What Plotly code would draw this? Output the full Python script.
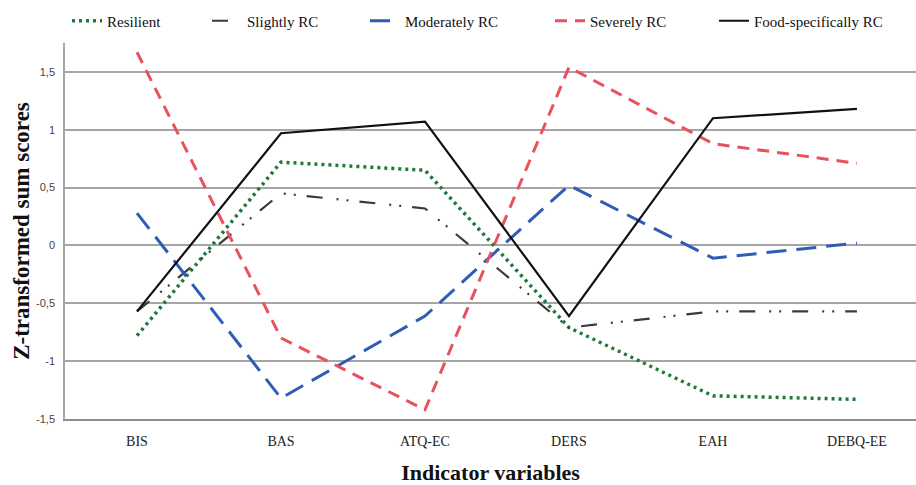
import plotly.graph_objects as go

categories = ["BIS", "BAS", "ATQ-EC", "DERS", "EAH", "DEBQ-EE"]
resilient = [-0.78, 0.72, 0.65, -0.71, -1.30, -1.33]
slightly_rc = [-0.57, 0.45, 0.32, -0.71, -0.57, -0.57]
moderately_rc = [0.28, -1.32, -0.61, 0.52, -0.11, 0.02]
severely_rc = [1.67, -0.80, -1.42, 1.54, 0.88, 0.71]
food_rc = [-0.57, 0.97, 1.07, -0.61, 1.10, 1.18]

y_ticks = [-1.5, -1, -0.5, 0, 0.5, 1, 1.5]
y_ticktext = ["-1,5", "-1", "-0,5", "0", "0,5", "1", "1,5"]

series = [
    ("Resilient", resilient, "#1d7a3a", 3.5, "3px,4px", 67),
    ("Slightly RC", slightly_rc, "#3a3a3a", 2.2, "16px,14px,2px,8px,2px,11px", 207),
    ("Moderately RC", moderately_rc, "#2f5db5", 3, "20px,10px", 365),
    ("Severely RC", severely_rc, "#e8525c", 3, "12px,8px", 550),
    ("Food-specifically RC", food_rc, "#111111", 2.2, "solid", 714),
]

L, R, T, B, W, H = 65, 0, 43, 66, 916, 485
fig = go.Figure()
layout_legends = {}
for i, (name, vals, color, width, dash, lx) in enumerate(series):
    key = "legend" if i == 0 else f"legend{i+1}"
    fig.add_trace(go.Scatter(
        x=categories, y=vals, mode="lines", name=name,
        line=dict(color=color, width=width, dash=dash),
        legend=key,
    ))
    layout_legends[key] = dict(
        x=(lx - L) / (W - L - R), y=1 - 21 / H, xanchor="left", yanchor="middle",
        yref="container", orientation="h",
        font=dict(family="Liberation Serif", size=15, color="#111"),
        bgcolor="rgba(0,0,0,0)", itemwidth=30, tracegroupgap=0,
    )

fig.update_layout(
    width=W, height=H,
    margin=dict(l=L, r=R, t=T, b=B, autoexpand=False),
    paper_bgcolor="white", plot_bgcolor="white",
    showlegend=True,
    xaxis=dict(
        type="category", range=[-0.5, 5.41], automargin=False,
        showgrid=False, showline=True, linecolor="#8c8c8c", linewidth=2,
        ticks="", ticklabelstandoff=8,
        tickfont=dict(family="Liberation Serif", size=14, color="#222"),
        title=dict(text="<b>Indicator variables</b>",
                   font=dict(family="Liberation Serif", size=22, color="#111"),
                   standoff=28),
    ),
    yaxis=dict(
        range=[-1.5, 1.75], tickvals=y_ticks, ticktext=y_ticktext, automargin=False,
        showgrid=True, gridcolor="#a6a6a6", gridwidth=1.5,
        zeroline=False, showline=True, linecolor="#a6a6a6", linewidth=1.5,
        ticks="", ticklabelstandoff=6,
        tickfont=dict(family="Liberation Sans", size=11, color="#444"),
        title=dict(text="<b>Z-transformed sum scores</b>",
                   font=dict(family="Liberation Serif", size=23, color="#111"),
                   standoff=0),
    ),
    **layout_legends,
)

fig.write_html("out.html", config={"displayModeBar": False},
               post_script="document.body.style.margin='0';")
